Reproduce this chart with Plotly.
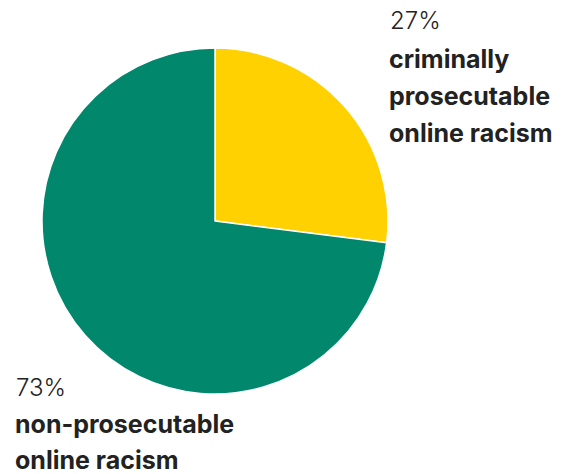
import plotly.graph_objects as go

labels = ["criminally prosecutable online racism", "non-prosecutable online racism"]
values = [27, 73]
colors = ["#FFD100", "#00876C"]
pct_text = ["27%", "73%"]

W, H = 566, 474
cx, cy, r = 215, 221, 173

fig = go.Figure(go.Pie(
    labels=labels, values=values, sort=False, direction="clockwise", rotation=0,
    marker=dict(colors=colors, line=dict(color="white", width=1.5)),
    textinfo="none", hoverinfo="label+percent", showlegend=False,
    domain=dict(x=[(cx - r) / W, (cx + r) / W], y=[1 - (cy + r) / H, 1 - (cy - r) / H]),
))

font_family = "Inter, Lato, sans-serif"
color = "#222222"

def add_line(text, x, y, weight, size=25):
    fig.add_annotation(
        text=text,
        x=x / W, y=1 - y / H, xref="paper", yref="paper",
        xanchor="left", yanchor="middle", showarrow=False,
        font=dict(family=font_family, size=size, color=color, weight=weight),
    )

# right block (27%)
add_line(pct_text[0], 388, 20, 300, 24)
for i, t in enumerate(["criminally", "prosecutable", "online racism"]):
    add_line(t, 387, 59 + i * 37, 700)

# left block (73%)
add_line(pct_text[1], 14, 387, 300, 24)
for i, t in enumerate(["non-prosecutable", "online racism"]):
    add_line(t, 13, 424 + i * 36, 700)

fig.update_layout(
    width=W, height=H, margin=dict(l=0, r=0, t=0, b=0),
    paper_bgcolor="white", plot_bgcolor="white",
)
fig.write_html("out.html")
